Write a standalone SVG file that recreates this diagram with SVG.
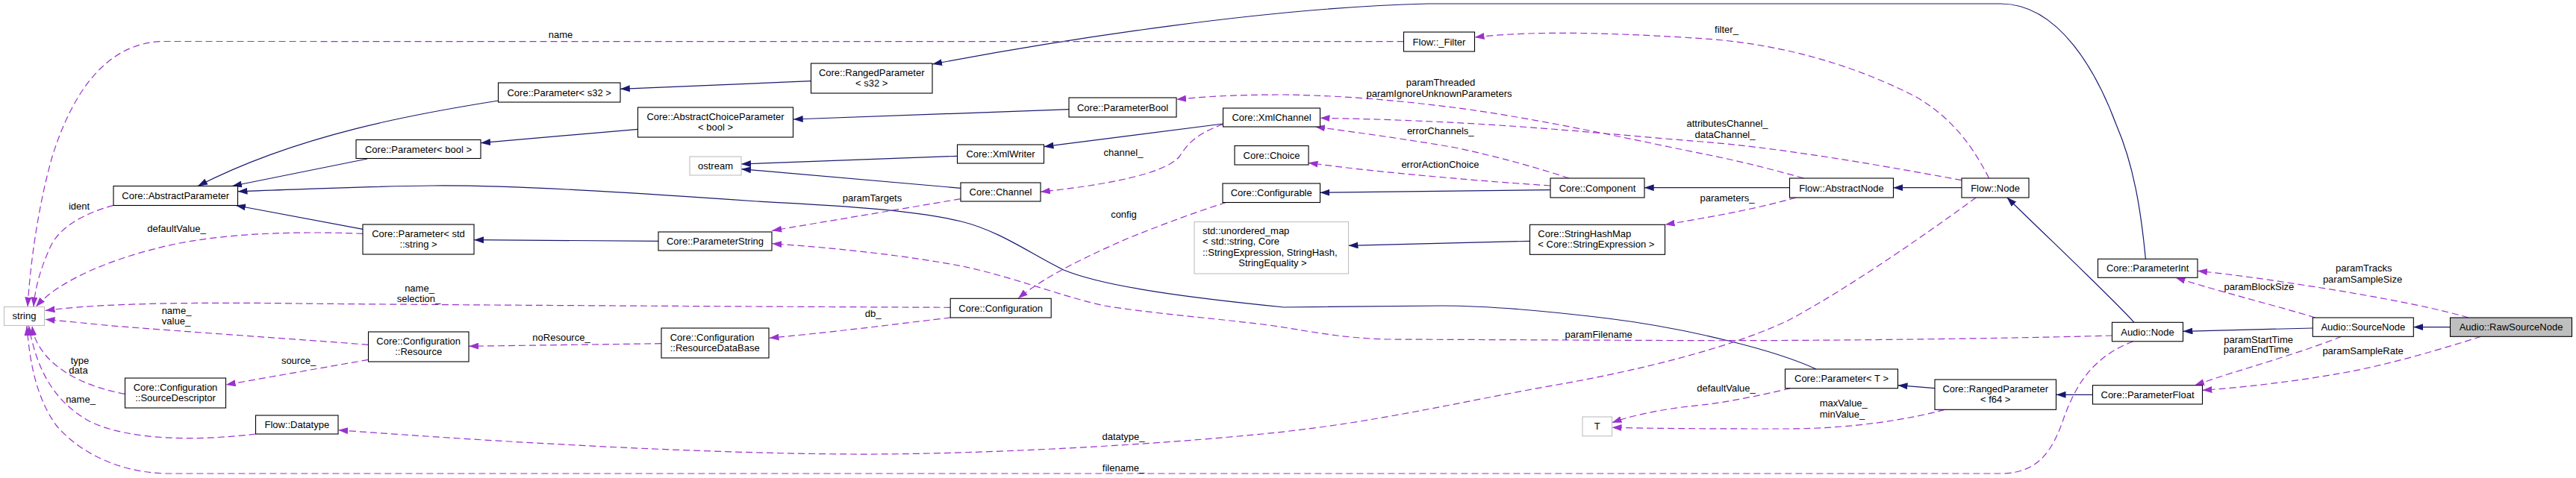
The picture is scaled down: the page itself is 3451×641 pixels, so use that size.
<svg xmlns="http://www.w3.org/2000/svg" width="3451" height="641" viewBox="0 0 3451 641">
<style>
text{font-family:"Liberation Sans",Arial,Helvetica,sans-serif;font-size:13px;fill:#000}
.c{text-anchor:middle}
.n rect{fill:#fff;stroke:#000;stroke-width:1.1}
.x rect{fill:#fff;stroke:#bfbfbf;stroke-width:1.1}
.m rect{fill:#bfbfbf;stroke:#000;stroke-width:1.1}
.b{fill:none;stroke:#191970;stroke-width:1.2;marker-end:url(#ab)}
.p{fill:none;stroke:#9a32cd;stroke-width:1.2;stroke-dasharray:9,5;marker-end:url(#ap)}
</style>
<defs>
<marker id="ab" viewBox="0 0 13 9" refX="13" refY="4.5" markerWidth="13" markerHeight="9" markerUnits="userSpaceOnUse" orient="auto"><path d="M0,0 L13,4.5 L0,9 z" fill="#191970" stroke="none"/></marker>
<marker id="ap" viewBox="0 0 13 9" refX="13" refY="4.5" markerWidth="13" markerHeight="9" markerUnits="userSpaceOnUse" orient="auto"><path d="M0,0 L13,4.5 L0,9 z" fill="#9a32cd" stroke="none"/></marker>
</defs>
<rect x="0" y="0" width="3451" height="641" fill="#fff"/>
<g id="connectors">
<path class="b" d="M3282.4,438.6 L3233.1,438.6"/>
<path class="b" d="M3098.3,440 L2924.5,444.3"/>
<path class="b" d="M2859,432.3 C2830,400 2745,320 2688.7,264.7"/>
<path class="b" d="M2628.2,251.7 L2536.4,251.7"/>
<path class="b" d="M2397.5,251.7 L2202.7,251.7"/>
<path class="b" d="M2076.6,254.7 L1768.4,258.3"/>
<path class="b" d="M2049.5,323.3 L1806.5,329.3"/>
<path class="b" d="M1638.5,166 L1398.5,196.7"/>
<path class="b" d="M1282.5,209.3 L993,220"/>
<path class="b" d="M1287,252.3 L993,226.7"/>
<path class="b" d="M2874.4,347.3 C2868,280 2858,220 2835,167 C2810,100 2760,5 2680,5 L1913,5 C1700,10 1430,52 1249.1,86"/>
<path class="b" d="M1086.5,108.7 L830.8,119.3"/>
<path class="b" d="M667.5,135 C560,152 400,180 265,249.5"/>
<path class="b" d="M854.5,173.3 L644,191.7"/>
<path class="b" d="M1432,146.7 L1062.7,160"/>
<path class="b" d="M492,213 L311,249.5"/>
<path class="b" d="M486,307.3 L316,275.5"/>
<path class="b" d="M882,323.3 L635,321.7"/>
<path class="b" d="M2433,495 C2380,470 2260,440 2154,427 C2080,418 2000,410 1932,410 L1720,412 C1600,400 1480,385 1425,362 C1380,340 1340,310 1288,297 C1230,283 1150,277 1014,270 C900,262 700,248 580,249 C480,250 400,254 318.5,256.7"/>
<path class="b" d="M2592,520.7 L2542.5,516.7"/>
<path class="b" d="M2803.5,529.3 L2754.5,529.3"/>

<path class="p" d="M1880.5,55.7 L222,55.5 C140,55 95,130 70,210 C50,280 40,360 37,411.5"/>
<text class="c" x="751" y="51.2">name</text>
<path class="p" d="M152,275.3 C110,287 80,305 68,330 C55,358 47,385 45,411.5"/>
<text class="c" x="106" y="280.5">ident</text>
<path class="p" d="M486,313.3 C400,310 300,312 222,330 C150,347 80,375 48,411.5"/>
<text class="c" x="236.5" y="311.2">defaultValue_</text>
<path class="p" d="M1273.2,412.3 C1000,411 600,409 400,407 C250,405 130,407 60.5,416.5"/>
<text class="c" x="562" y="391.2">name_</text>
<text class="c" x="561" y="404.5">selection_</text>
<path class="p" d="M1273.2,426 C1220,432 1140,443 1030.5,453.3"/>
<text class="c" x="1169.6" y="424.5">db_</text>
<path class="p" d="M886,460.7 L628,464.3"/>
<text class="c" x="752" y="457.2">noResource_</text>
<path class="p" d="M493.5,462.3 C400,455 250,445 148,436.7 C110,433 80,430 60.5,428.3"/>
<text class="c" x="236.5" y="420.5">name_</text>
<text class="c" x="236" y="435.2">value_</text>
<path class="p" d="M493.5,482.3 L302.6,516"/>
<text class="c" x="400" y="487.8">source_</text>
<path class="p" d="M167.5,528.3 C120,520 80,500 60,475 C50,462 45,452 43,437"/>
<text class="c" x="107" y="487.8">type</text>
<text class="c" x="105" y="501.2">data</text>
<path class="p" d="M342.5,582 C260,592 170,590 120,565 C75,540 50,500 38.5,437"/>
<text class="c" x="108" y="539.5">name_</text>
<path class="p" d="M2857.8,457.7 C2800,480 2780,520 2765,560 C2750,605 2730,635 2680,635 L222,635 C150,633 100,600 75,570 C50,535 40,490 36,437"/>
<text class="c" x="1505" y="631.8">filename_</text>
<path class="p" d="M2647.4,264.7 C2600,300 2480,385 2395,430 C2300,475 2150,505 2080,517 C1950,540 1850,565 1710,580 C1550,597 1300,610 1140,609 C950,608 700,595 453.1,576.7"/>
<text class="c" x="1505" y="589.5">datatype_</text>
<path class="p" d="M2829.5,450 C2650,455 2400,457 2280,456.7 L1858,455 C1790,453 1750,443 1700,436 C1620,426 1540,420 1480,410 C1430,400 1360,372 1288,356.7 C1220,344 1130,333 1034.2,326.7"/>
<text class="c" x="2141.7" y="452.8">paramFilename</text>
<path class="p" d="M1287,266.7 L1034.2,309.3"/>
<text class="c" x="1168.5" y="269.5">paramTargets</text>
<path class="p" d="M1638.5,166.7 C1600,180 1590,195 1580,210 C1565,228 1510,245 1393.8,257.3"/>
<text class="c" x="1505" y="208.5">channel_</text>
<path class="p" d="M1643,271.3 C1600,285 1560,300 1510,320 C1460,342 1400,370 1363.8,400.3"/>
<text class="c" x="1505.5" y="291.8">config</text>
<path class="p" d="M2102,239 C2060,225 2006,210 1950,198 C1880,186 1820,178 1762,170"/>
<text class="c" x="1929.7" y="180.2">errorChannels_</text>
<path class="p" d="M2077,249 C2000,244 1850,232 1752.5,218.3"/>
<text class="c" x="1929.4" y="225.2">errorActionChoice</text>
<path class="p" d="M2628.2,241.7 C2500,218 2380,198 2280,190 C2150,180 2000,162 1768.5,158.3"/>
<text class="c" x="2314" y="169.5">attributesChannel_</text>
<text class="c" x="2311" y="184.5">dataChannel_</text>
<path class="p" d="M2416.6,239 C2370,226 2330,216 2290,208 C2200,190 2080,163 1969,147 C1880,135 1800,128 1720,127 C1650,127 1610,130 1576,133.3"/>
<text class="c" x="1930" y="114.5">paramThreaded</text>
<text class="c" x="1928" y="129.5">paramIgnoreUnknownParameters</text>
<path class="p" d="M2664.6,239 C2640,190 2610,155 2567,130 C2480,85 2380,58 2280,51.7 C2180,45 2060,40 1975.5,50"/>
<text class="c" x="2313" y="43.8">filter_</text>
<path class="p" d="M2406,265 C2360,278 2310,288 2230.5,301.3"/>
<text class="c" x="2314" y="269.5">parameters_</text>
<path class="p" d="M2605,549.3 C2560,562 2480,575 2394.8,575 C2320,575 2240,575 2159.5,573.3"/>
<text class="c" x="2469.8" y="544.5">maxValue_</text>
<text class="c" x="2468" y="559.5">minValue_</text>
<path class="p" d="M2398.6,520.7 C2360,530 2310,540 2280,543 C2230,548 2190,556 2159.5,566.7"/>
<text class="c" x="2312.5" y="524.5">defaultValue_</text>
<path class="p" d="M3307,426 C3270,415 3200,400 3092.3,383.3 C3040,375 2990,368 2944,363.3"/>
<text class="c" x="3166.8" y="363.8">paramTracks</text>
<text class="c" x="3165" y="378.8">paramSampleSize</text>
<path class="p" d="M3101.6,426 C3050,410 2980,393 2914.5,372.3"/>
<text class="c" x="3026.4" y="388.8">paramBlockSize</text>
<path class="p" d="M3136.8,451.3 C3100,466 3055,480 3010,494 C2980,503 2960,510 2940,516.7"/>
<text class="c" x="3025.6" y="459.5">paramStartTime</text>
<text class="c" x="3023" y="472.8">paramEndTime</text>
<path class="p" d="M3323.9,451.3 C3280,465 3200,490 3129.4,501.7 C3070,512 3000,520 2950.4,523.3"/>
<text class="c" x="3165.6" y="475.2">paramSampleRate</text>
</g>

<g id="n-string" class="x"><rect x="5.5" y="411.5" width="54" height="25"/><text class="c" x="32.5" y="428.3">string</text></g>
<g id="n-abstractparameter" class="n"><rect x="152" y="249.5" width="166.5" height="26"/><text class="c" x="235.2" y="266.9">Core::AbstractParameter</text></g>
<g id="n-parameter-s32" class="n"><rect x="667.5" y="111" width="163.5" height="26"/><text class="c" x="749.2" y="128.5">Core::Parameter&lt; s32 &gt;</text></g>
<g id="n-rangedparameter-s32" class="n"><rect x="1086.5" y="85" width="162.5" height="40"/><text class="c" x="1167.7" y="101.5">Core::RangedParameter</text><text class="c" x="1167.7" y="116">&lt; s32 &gt;</text></g>
<g id="n-abstractchoiceparameter" class="n"><rect x="854.5" y="144" width="208" height="40"/><text class="c" x="958.5" y="160.5">Core::AbstractChoiceParameter</text><text class="c" x="958.5" y="175">&lt; bool &gt;</text></g>
<g id="n-parameter-bool" class="n"><rect x="477" y="187.5" width="167" height="25"/><text class="c" x="560.5" y="204.5">Core::Parameter&lt; bool &gt;</text></g>
<g id="n-ostream" class="x"><rect x="924" y="210" width="69" height="25"/><text class="c" x="958.5" y="227">ostream</text></g>
<g id="n-parameter-string" class="n"><rect x="486" y="301" width="149" height="40"/><text class="c" x="560.5" y="317.5">Core::Parameter&lt; std</text><text class="c" x="560.5" y="332">::string &gt;</text></g>
<g id="n-parameterstring" class="n"><rect x="882" y="311" width="152" height="25"/><text class="c" x="958" y="328">Core::ParameterString</text></g>
<g id="n-resource" class="n"><rect x="493.5" y="445" width="134.5" height="40"/><text class="c" x="560.7" y="461.5">Core::Configuration</text><text class="c" x="560.7" y="476">::Resource</text></g>
<g id="n-sourcedescriptor" class="n"><rect x="167.5" y="507" width="135" height="40"/><text class="c" x="235" y="523.5">Core::Configuration</text><text class="c" x="235" y="538">::SourceDescriptor</text></g>
<g id="n-resourcedatabase" class="n"><rect x="886" y="440" width="144" height="40"/><text x="897.7" y="456.5">Core::Configuration</text><text x="897.7" y="471">::ResourceDataBase</text></g>
<g id="n-datatype" class="n"><rect x="342.5" y="557" width="110.5" height="25"/><text class="c" x="397.8" y="574">Flow::Datatype</text></g>
<g id="n-configuration" class="n"><rect x="1273.2" y="400.3" width="135" height="25.7"/><text class="c" x="1340.7" y="417.6">Core::Configuration</text></g>
<g id="n-parameterbool" class="n"><rect x="1432" y="131" width="144" height="26"/><text class="c" x="1504" y="148.5">Core::ParameterBool</text></g>
<g id="n-xmlwriter" class="n"><rect x="1282.5" y="194" width="116" height="25"/><text class="c" x="1340.5" y="211">Core::XmlWriter</text></g>
<g id="n-channel" class="n"><rect x="1287" y="245" width="107" height="25"/><text class="c" x="1340.5" y="262">Core::Channel</text></g>
<g id="n-xmlchannel" class="n"><rect x="1638.5" y="145" width="130" height="25"/><text class="c" x="1703.5" y="162">Core::XmlChannel</text></g>
<g id="n-choice" class="n"><rect x="1654" y="195.5" width="99" height="25.5"/><text class="c" x="1703.5" y="212.7">Core::Choice</text></g>
<g id="n-configurable" class="n"><rect x="1638" y="246" width="130.5" height="25.5"/><text class="c" x="1703.2" y="263.2">Core::Configurable</text></g>
<g id="n-unordered-map" class="x"><rect x="1600" y="297.5" width="206.5" height="69.5"/><text x="1611" y="313.5">std::unordered_map</text><text x="1611" y="328">&lt; std::string, Core</text><text x="1611" y="342.5">::StringExpression, StringHash,</text><text class="c" x="1705" y="357">StringEquality &gt;</text></g>
<g id="n-component" class="n"><rect x="2077" y="239" width="126" height="26"/><text class="c" x="2140" y="256.5">Core::Component</text></g>
<g id="n-stringhashmap" class="n"><rect x="2049.5" y="301.3" width="181" height="40"/><text x="2060.3" y="317.8">Core::StringHashMap</text><text x="2060.3" y="332.3">&lt; Core::StringExpression &gt;</text></g>
<g id="n-filter" class="n"><rect x="1880.5" y="43" width="95" height="26"/><text class="c" x="1928" y="60.5">Flow::_Filter</text></g>
<g id="n-abstractnode" class="n"><rect x="2397.5" y="239" width="139" height="26"/><text class="c" x="2467" y="256.5">Flow::AbstractNode</text></g>
<g id="n-flow-node" class="n"><rect x="2628" y="239" width="90" height="26"/><text class="c" x="2673" y="256.5">Flow::Node</text></g>
<g id="n-parameterint" class="n"><rect x="2810.5" y="347.3" width="133.5" height="25"/><text class="c" x="2877.2" y="364.3">Core::ParameterInt</text></g>
<g id="n-audio-node" class="n"><rect x="2829.5" y="432.3" width="95" height="25.5"/><text class="c" x="2877" y="449.5">Audio::Node</text></g>
<g id="n-parameter-t" class="n"><rect x="2391.5" y="495" width="151" height="25.7"/><text class="c" x="2467" y="512.3">Core::Parameter&lt; T &gt;</text></g>
<g id="n-rangedparameter-f64" class="n"><rect x="2592" y="509" width="162.5" height="40.3"/><text class="c" x="2673.2" y="525.5">Core::RangedParameter</text><text class="c" x="2673.2" y="540">&lt; f64 &gt;</text></g>
<g id="n-parameterfloat" class="n"><rect x="2803.5" y="516.7" width="147" height="25.3"/><text class="c" x="2877" y="533.8">Core::ParameterFloat</text></g>
<g id="n-t" class="x"><rect x="2120" y="559" width="39.5" height="25.7"/><text class="c" x="2139.8" y="576.3">T</text></g>
<g id="n-sourcenode" class="n"><rect x="3098.3" y="426" width="135" height="25.3"/><text class="c" x="3165.8" y="443.2">Audio::SourceNode</text></g>
<g id="n-rawsourcenode" class="m"><rect x="3282.5" y="426" width="163" height="25.3"/><text class="c" x="3364" y="443.2">Audio::RawSourceNode</text></g>
</svg>
